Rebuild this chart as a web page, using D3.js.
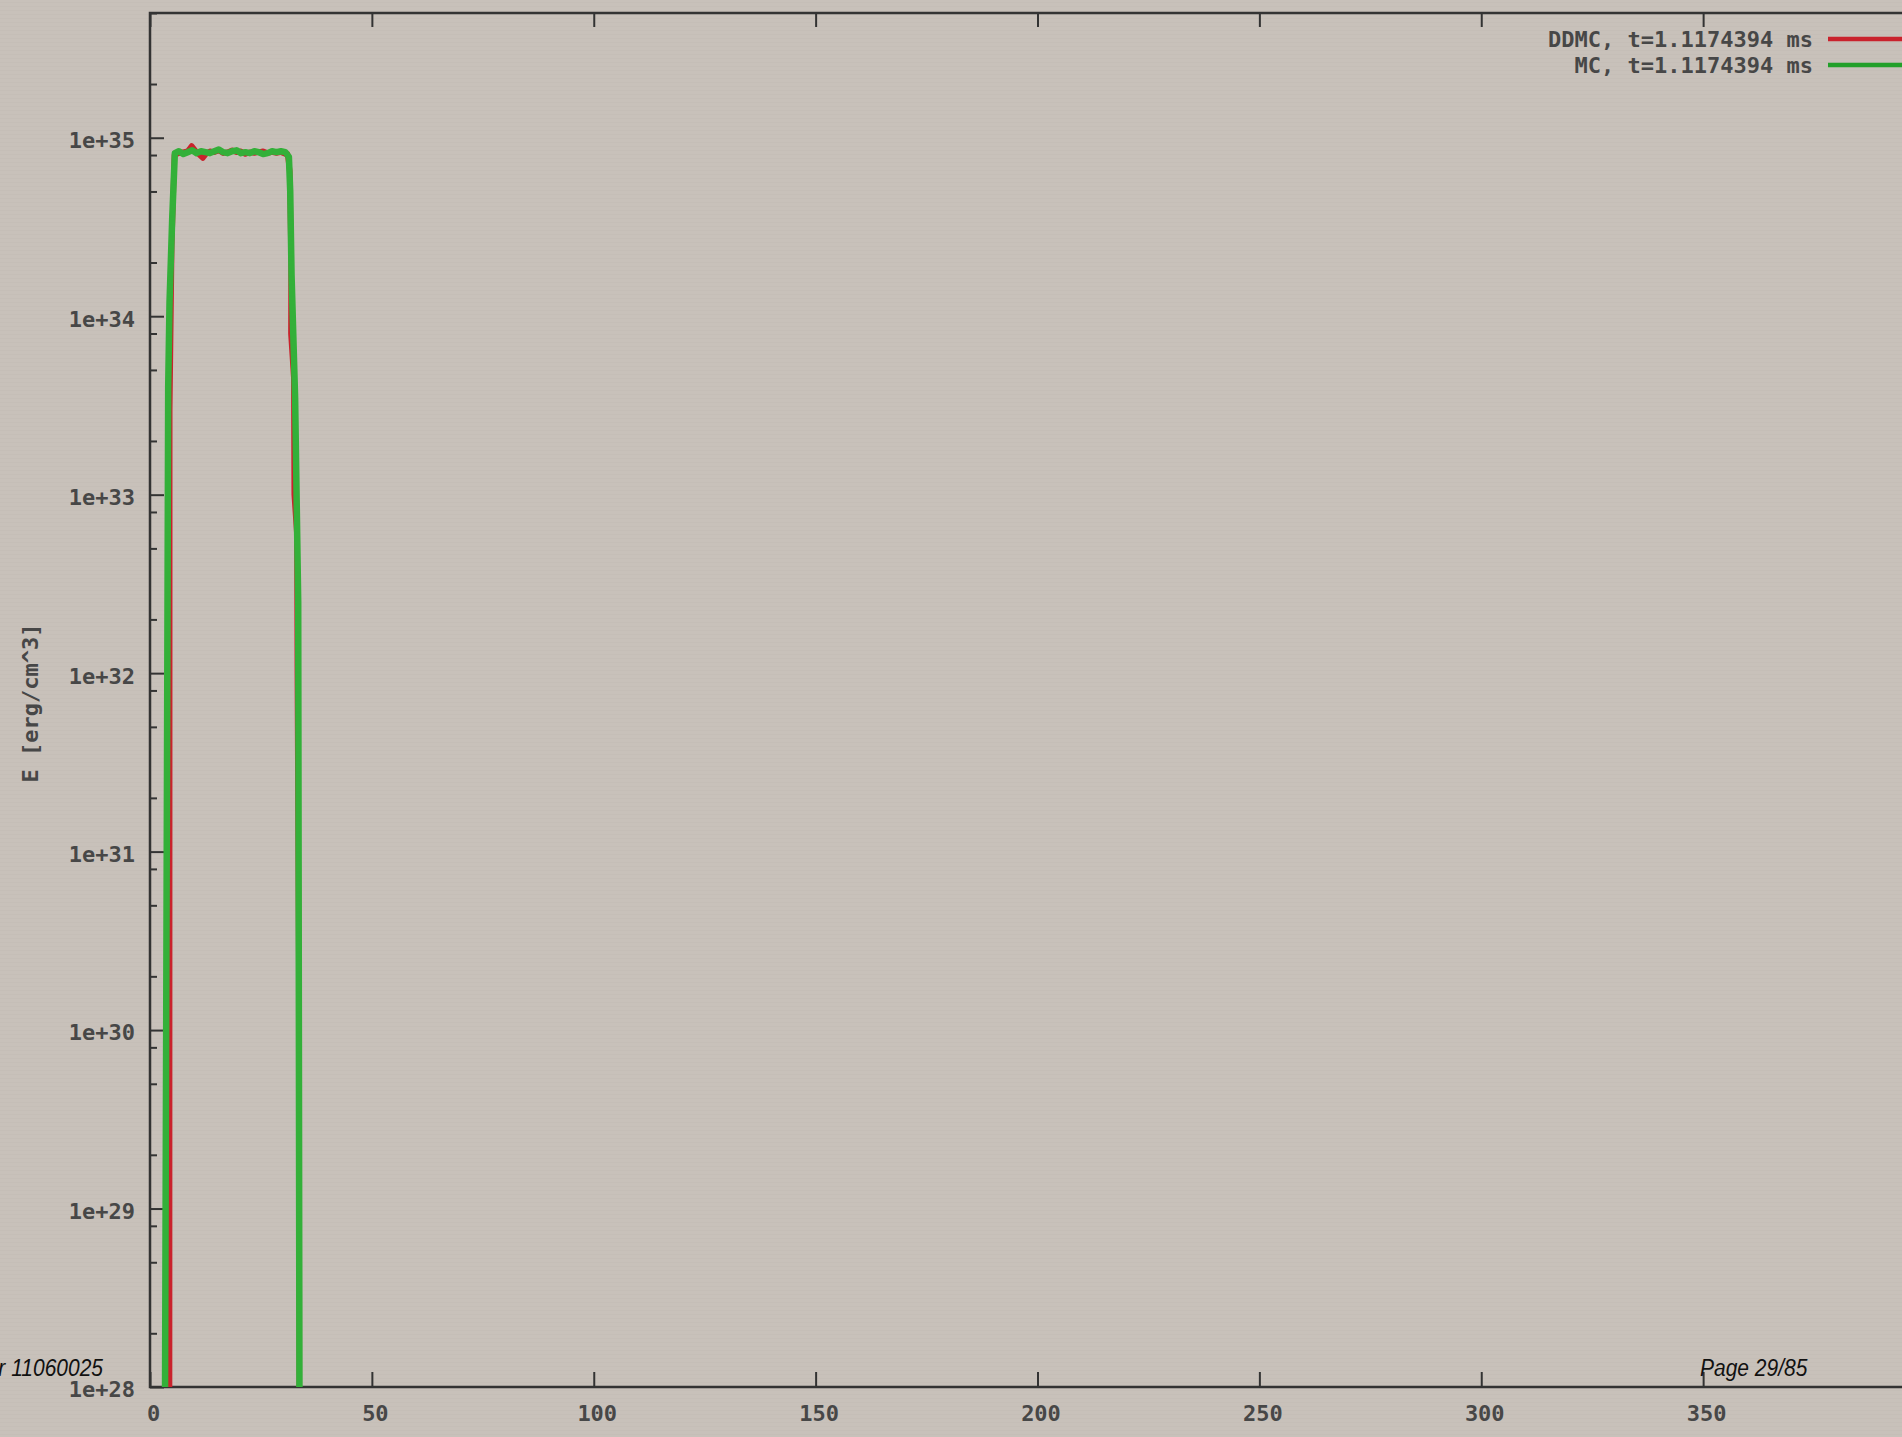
<!DOCTYPE html>
<html>
<head>
<meta charset="utf-8">
<script src="https://cdn.jsdelivr.net/npm/d3@7"></script>
<style>
  html, body { margin: 0; padding: 0; background: #c8c1ba; overflow: hidden; }
  svg { display: block; }
  .tick text, .lbl { font-family: "DejaVu Sans Mono", monospace; font-size: 22px; fill: #474747; font-weight: bold; }
  .foot { font-family: "Liberation Sans", Arial, sans-serif; font-style: italic; font-size: 21px; fill: #111; }
</style>
</head>
<body>
<script>
// Energy density profile: DDMC vs MC at t = 1.1174394 ms
const xTicks = [0, 50, 100, 150, 200, 250, 300, 350];
const yMajor = [1e28, 1e29, 1e30, 1e31, 1e32, 1e33, 1e34, 1e35];
const yMinorMantissa = [2, 5, 8];
const legendLabels = ["DDMC, t=1.1174394 ms", "MC, t=1.1174394 ms"];

// DDMC (red)
const ddmcX = [4.4, 4.45, 4.9, 5.5, 6.5, 7.5, 8.5, 9.4, 10.5, 11.9, 12.8, 13.5, 14.5, 15.5, 16.5, 17.5,
               18.5, 19.5, 20.5, 21.5, 22.5, 23.5, 24.5, 25.5, 26.5, 27.5, 28.5, 29.5, 30.5, 31.0,
               31.5, 31.8, 31.75, 32.4, 32.5, 33.1, 33.2, 33.6, 33.7];
const ddmcE = [1e26, 3e33, 2.5e34, 8.0e34, 8.2e34, 8.3e34, 8.4e34, 9.0e34, 8.3e34, 7.7e34, 8.2e34, 8.4e34,
               8.3e34, 8.5e34, 8.2e34, 8.3e34, 8.5e34, 8.3e34, 8.4e34, 8.1e34, 8.3e34, 8.2e34, 8.3e34,
               8.4e34, 8.2e34, 8.3e34, 8.2e34, 8.3e34, 8.1e34, 8.1e34, 6.5e34, 2.0e34, 8e33, 4.5e33,
               1e33, 6e32, 1e32, 1e30, 1e26];

// MC (green)
const mcX = [3.2, 4.1, 4.4, 5.0, 5.6, 6.5, 7.5, 8.5, 9.5, 10.5, 11.5, 12.5, 13.5, 14.5, 15.5, 16.5, 17.5,
             18.5, 19.5, 20.5, 21.5, 22.5, 23.5, 24.5, 25.5, 26.5, 27.5, 28.5, 29.5, 30.5, 31.3,
             31.6, 31.9, 32.7, 33.4, 33.8];
const mcE = [3e26, 4e33, 1.2e34, 3.5e34, 8.2e34, 8.4e34, 8.1e34, 8.3e34, 8.5e34, 8.2e34, 8.4e34, 8.3e34,
             8.2e34, 8.4e34, 8.6e34, 8.3e34, 8.2e34, 8.4e34, 8.5e34, 8.2e34, 8.3e34, 8.2e34, 8.4e34,
             8.3e34, 8.1e34, 8.2e34, 8.4e34, 8.3e34, 8.4e34, 8.3e34, 7.8e34, 5e34, 1.7e34, 3.5e33,
             2.5e32, 1e26];

const W = 1902, H = 1437;
const plotL = 150, plotT = 13, plotB = 1387, plotR = 1925;

const svg = d3.select("body").append("svg").attr("width", W).attr("height", H);

// faint horizontal scan texture on the page
const defs = svg.append("defs");
const pat = defs.append("pattern").attr("id", "scan").attr("width", 8).attr("height", 4)
  .attr("patternUnits", "userSpaceOnUse");
pat.append("rect").attr("width", 8).attr("height", 4).attr("fill", "#c8c1ba");
pat.append("rect").attr("y", 2).attr("width", 8).attr("height", 1).attr("fill", "#c5beb7");
svg.append("rect").attr("width", W).attr("height", H).attr("fill", "url(#scan)");

defs.append("clipPath").attr("id", "plotclip").append("rect")
  .attr("x", plotL).attr("y", plotT).attr("width", plotR - plotL).attr("height", plotB - plotT);

const x = d3.scaleLinear().domain([0, 400]).range([plotL, plotR]);
const y = d3.scaleLog().domain([1e28, 5e35]).range([plotB, plotT]);

const yMinor = [];
for (let e = 28; e <= 35; e++) for (const m of yMinorMantissa) {
  const v = m * Math.pow(10, e);
  if (v <= 5e35) yMinor.push(v);
}

const axisColor = "#333";

// bottom axis
const gx = svg.append("g").attr("transform", `translate(0,${plotB})`)
  .call(d3.axisBottom(x).tickValues(xTicks).tickSizeInner(-15).tickSizeOuter(0).tickPadding(18)
    .tickFormat(d3.format("d")));
gx.selectAll(".tick text").attr("dx", 3);

// top axis (ticks only)
svg.append("g").attr("transform", `translate(0,${plotT})`)
  .call(d3.axisTop(x).tickValues(xTicks).tickSizeInner(-14).tickSizeOuter(0).tickFormat(""));

// left axis: decades with labels
const gy = svg.append("g").attr("transform", `translate(${plotL},0)`)
  .call(d3.axisLeft(y).tickValues(yMajor).tickSizeInner(-14).tickSizeOuter(0).tickPadding(15)
    .tickFormat(d => "1e+" + Math.round(Math.log10(d))));
gy.selectAll(".tick text").attr("dy", "0.45em");

// left axis: minor ticks
svg.append("g").attr("transform", `translate(${plotL},0)`)
  .call(d3.axisLeft(y).tickValues(yMinor).tickSizeInner(-7).tickSizeOuter(0).tickFormat(""));

svg.selectAll(".domain").remove();
svg.selectAll(".tick line").attr("stroke", axisColor).attr("stroke-width", 2);

// frame
svg.append("rect").attr("x", plotL).attr("y", plotT).attr("width", plotR - plotL).attr("height", plotB - plotT)
  .attr("fill", "none").attr("stroke", axisColor).attr("stroke-width", 2.5);

// curves
const line = d3.line().x(d => x(d[0])).y(d => y(d[1]));
const plot = svg.append("g").attr("clip-path", "url(#plotclip)");
plot.append("path").datum(d3.zip(ddmcX, ddmcE)).attr("d", line)
  .attr("fill", "none").attr("stroke", "#c9222c").attr("stroke-width", 5.5).attr("stroke-linejoin", "round");
plot.append("path").datum(d3.zip(mcX, mcE)).attr("d", line)
  .attr("fill", "none").attr("stroke", "#33b039").attr("stroke-width", 6.5).attr("stroke-linejoin", "round");

// legend
const legColors = ["#c9222c", "#22a02a"];
const legY = [39, 65];
legendLabels.forEach((t, i) => {
  svg.append("text").attr("class", "lbl").attr("x", 1813).attr("y", legY[i]).attr("dy", "0.35em")
    .attr("text-anchor", "end").text(t);
  svg.append("line").attr("x1", 1828).attr("x2", 1925).attr("y1", legY[i]).attr("y2", legY[i])
    .attr("stroke", legColors[i]).attr("stroke-width", 4.5);
});

// y axis title
svg.append("text").attr("class", "lbl")
  .attr("transform", "translate(30,703) rotate(-90)")
  .attr("text-anchor", "middle").attr("dy", "0.35em").text("E [erg/cm^3]");

// page footer
svg.append("text").attr("class", "foot").attr("text-anchor", "end")
  .attr("transform", "translate(103,1376) scale(1,1.12)").text("r 11060025");
svg.append("text").attr("class", "foot")
  .attr("transform", "translate(1700,1376) scale(1,1.12)").text("Page 29/85");
</script>
</body>
</html>
